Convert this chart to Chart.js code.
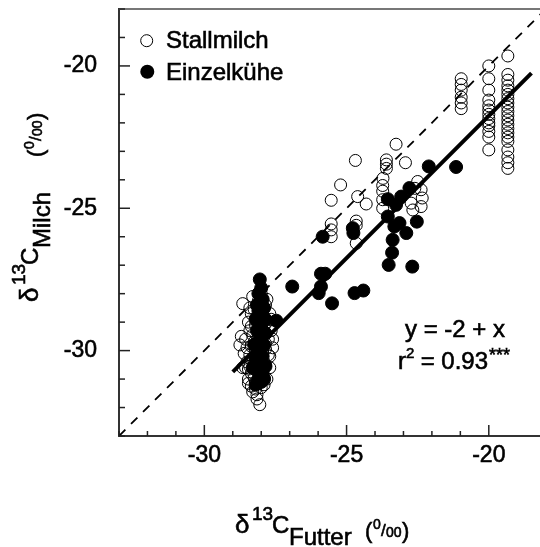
<!DOCTYPE html>
<html>
<head>
<meta charset="utf-8">
<script src="https://cdn.jsdelivr.net/npm/chart.js@4.4.0/dist/chart.umd.min.js"></script>
<style>
html, body { margin: 0; padding: 0; background: #fff; }
#wrap { width: 540px; height: 547px; }
</style>
</head>
<body>
<div id="wrap"><canvas id="chart" width="540" height="547"></canvas></div>
<script>

// d13C Futter (x) vs d13C Milch (y), per mille
const stallmilch = [
  // column at -19.3
  [-19.33,-19.65],[-19.33,-20.3],[-19.33,-20.5],[-19.33,-20.7],[-19.33,-20.85],[-19.33,-21.0],
  [-19.33,-21.15],[-19.33,-21.3],[-19.33,-21.45],[-19.33,-21.6],[-19.33,-21.75],[-19.33,-21.9],
  [-19.33,-22.05],[-19.33,-22.2],[-19.33,-22.35],[-19.33,-22.5],[-19.33,-22.65],[-19.33,-22.95],
  [-19.33,-23.2],[-19.33,-23.4],[-19.33,-23.6],
  // column at -20
  [-20.0,-20.0],[-20.0,-20.45],[-20.0,-20.85],[-20.0,-21.2],[-20.0,-21.4],[-20.0,-21.55],
  [-20.0,-21.7],[-20.0,-21.85],[-20.0,-22.0],[-20.0,-22.1],[-20.0,-22.3],[-20.0,-22.5],[-20.0,-22.95],
  // column at -21
  [-20.97,-20.45],[-20.97,-20.65],[-20.97,-20.85],[-20.97,-21.1],[-20.97,-21.3],[-20.97,-21.5],
  // middle
  [-23.26,-22.75],[-24.69,-23.32],[-23.6,-23.3],[-23.6,-23.45],[-23.6,-23.6],[-22.93,-23.4],
  [-23.72,-23.95],[-23.73,-24.2],[-23.73,-24.4],[-23.73,-24.7],[-23.73,-25.0],[-25.21,-24.18],
  [-25.54,-24.72],[-24.61,-24.59],[-24.31,-24.85],[-25.54,-25.55],[-25.54,-25.76],[-25.54,-26.0],
  [-24.66,-25.45],[-24.66,-25.6],[-24.66,-26.23],[-22.5,-24.06],[-22.38,-24.35],[-22.34,-24.64],
  [-22.38,-24.94],[-22.73,-24.82],[-22.67,-25.06],[-22.6,-24.3],
  // cluster at -28
  [-28.3,-28.1],[-28.0,-28.0],[-27.8,-28.2],[-28.15,-28.4],[-27.9,-28.5],[-28.35,-28.7],
  [-27.7,-28.7],[-28.05,-28.8],[-28.45,-29.0],[-27.8,-29.0],[-28.2,-29.1],[-27.65,-29.3],
  [-28.4,-29.3],[-28.0,-29.4],[-28.55,-29.6],[-27.75,-29.6],[-28.25,-29.7],[-27.6,-29.9],
  [-28.5,-29.9],[-28.05,-30.0],[-28.6,-30.1],[-27.7,-30.2],[-28.3,-30.25],[-28.5,-30.4],
  [-27.9,-30.4],[-28.15,-30.5],[-28.55,-30.6],[-27.7,-30.6],[-28.35,-30.8],[-28.0,-30.85],
  [-28.45,-31.0],[-27.8,-31.0],[-28.2,-31.1],[-28.35,-31.25],[-28.0,-31.3],[-28.3,-31.45],
  [-28.15,-31.55],[-28.05,-31.9],[-28.65,-28.35],[-28.7,-29.5],[-28.75,-29.8],[-28.65,-30.6],
  [-27.75,-30.15],[-27.6,-29.6],[-27.65,-28.9],[-28.4,-28.5],
  [-28.1,-28.25],[-27.85,-28.4],[-28.25,-28.55],[-27.95,-28.65],[-28.15,-28.95],[-27.9,-29.15],
  [-28.3,-29.45],[-28.1,-29.55],[-27.85,-29.75],[-28.2,-29.95],[-27.95,-30.05],[-28.4,-30.15],
  [-28.1,-30.3],[-27.85,-30.5],[-28.25,-30.6],[-28.4,-30.55],[-28.05,-30.7],[-27.9,-30.95],
  [-28.25,-30.95],[-28.1,-31.15],[-27.9,-31.2],[-28.45,-31.15],[-28.2,-31.35],[-27.85,-29.95],
  [-28.35,-29.85],[-28.45,-30.65],[-28.15,-31.7],[-28.35,-29.15]
];

const einzelkuehe = [
  [-28.05,-27.5],[-28.0,-27.8],[-28.1,-28.0],[-27.95,-28.2],[-28.15,-28.4],[-27.9,-28.5],
  [-28.05,-28.7],[-28.2,-28.9],[-27.85,-28.9],[-28.0,-29.1],[-28.15,-29.3],[-27.85,-29.4],
  [-28.05,-29.6],[-28.25,-29.8],[-27.9,-29.8],[-28.1,-30.0],[-27.95,-30.2],[-28.2,-30.3],
  [-28.0,-30.5],[-28.15,-30.7],[-27.95,-30.8],[-28.1,-31.0],[-28.2,-31.2],[-28.0,-31.1],
  [-28.1,-28.6],[-27.95,-29.3],[-28.1,-29.9],[-27.85,-30.55],[-28.3,-30.6],[-27.9,-31.0],
  [-27.47,-28.95],[-26.91,-27.75],[-25.9,-27.3],[-25.75,-27.3],[-25.9,-27.75],[-25.98,-27.98],
  [-25.51,-28.34],[-24.72,-27.98],[-24.41,-27.89],[-25.84,-26.0],[-24.78,-25.7],[-24.76,-25.87],
  [-23.55,-24.68],[-23.08,-24.59],[-22.79,-24.29],[-22.11,-23.53],[-21.15,-23.55],[-23.26,-24.88],
  [-23.55,-25.29],[-23.14,-25.52],[-23.32,-25.64],[-22.9,-25.87],[-22.53,-25.47],[-23.38,-26.11],
  [-23.4,-26.56],[-23.52,-26.99],[-22.69,-27.05]
];

// regression y = -2 + x (as drawn) and the 1:1 line
const fitLine = [[-29.0,-30.75],[-18.5,-20.25]];
const oneToOne = [[-33,-33],[-18,-18]];

const xRange = [-33, -18.2];
const yRange = [-33, -18];

const FONT = '"Liberation Sans", Arial, Helvetica, sans-serif';

function toXY(arr) { return arr.map(p => ({x: p[0], y: p[1]})); }

// text pieces, each with its own x, baseline and size; thin stroke for weight
function drawPieces(ctx, pieces) {
  pieces.forEach(p => {
    ctx.font = p.size + 'px ' + FONT;
    ctx.fillText(p.t, p.x, p.dy);
    ctx.strokeText(p.t, p.x, p.dy);
  });
}

function noPad(s) {
  s.paddingTop = 0; s.paddingBottom = 0;
  s.paddingLeft = 0; s.paddingRight = 0;
}

const decor = {
  id: 'decor',
  afterDraw(chart) {
    const ctx = chart.ctx;
    const a = chart.chartArea;
    const xs = chart.scales.x, ys = chart.scales.y;
    ctx.save();
    // top frame line
    ctx.strokeStyle = '#777';
    ctx.lineWidth = 2;
    ctx.beginPath();
    ctx.moveTo(a.left, a.top);
    ctx.lineTo(a.right, a.top);
    ctx.stroke();
    // inward tick marks
    ctx.strokeStyle = '#222';
    ctx.lineWidth = 1.5;
    xs.ticks.forEach(t => {
      if (!Number.isInteger(t.value)) return;
      const px = xs.getPixelForValue(t.value);
      const len = t.value % 5 === 0 ? 11 : 5;
      ctx.beginPath();
      ctx.moveTo(px, a.bottom);
      ctx.lineTo(px, a.bottom - len);
      ctx.stroke();
    });
    ys.ticks.forEach(t => {
      if (!Number.isInteger(t.value)) return;
      const py = ys.getPixelForValue(t.value);
      const len = t.value % 5 === 0 ? 11 : 6;
      ctx.beginPath();
      ctx.moveTo(a.left, py);
      ctx.lineTo(a.left + len, py);
      ctx.stroke();
    });

    ctx.fillStyle = '#000';
    ctx.textBaseline = 'alphabetic';
    ctx.textAlign = 'left';

    // legend
    ctx.lineWidth = 1;
    ctx.strokeStyle = '#000';
    ctx.beginPath();
    ctx.arc(146.7, 40.7, 6, 0, Math.PI * 2);
    ctx.stroke();
    ctx.beginPath();
    ctx.arc(147.3, 71.7, 7, 0, Math.PI * 2);
    ctx.fill();

    ctx.lineWidth = 0.6;
    drawPieces(ctx, [
      {t: 'Stallmilch', x: 166, dy: 48, size: 24},
      {t: 'Einzelkühe', x: 166, dy: 80, size: 24},
      // equation
      {t: 'y = -2 + x', x: 405, dy: 337, size: 24},
      {t: 'r', x: 398, dy: 369, size: 24},
      {t: '2', x: 406, dy: 358, size: 15},
      {t: ' = 0.93', x: 414, dy: 369, size: 24},
      {t: '***', x: 489, dy: 361, size: 18}
    ]);

    // x title
    drawPieces(ctx, [
      {t: 'δ', x: 235, dy: 533, size: 26},
      {t: '13', x: 252, dy: 520, size: 19},
      {t: 'C', x: 272, dy: 533, size: 24},
      {t: 'Futter', x: 289, dy: 545, size: 24},
      {t: '(', x: 365, dy: 538, size: 22},
      {t: '0', x: 373, dy: 529, size: 14},
      {t: '/', x: 381, dy: 536, size: 17},
      {t: '00', x: 386, dy: 537, size: 14},
      {t: ')', x: 402, dy: 538, size: 22}
    ]);

    // y title (rotated, reads bottom to top)
    ctx.translate(38, 302);
    ctx.rotate(-Math.PI / 2);
    drawPieces(ctx, [
      {t: 'δ', x: 0, dy: 0, size: 26},
      {t: '13', x: 17, dy: -13, size: 19},
      {t: 'C', x: 37, dy: 0, size: 24},
      {t: 'Milch', x: 54, dy: 12, size: 24},
      {t: '(', x: 145, dy: 5, size: 22},
      {t: '0', x: 153, dy: -4, size: 14},
      {t: '/', x: 161, dy: 3, size: 17},
      {t: '00', x: 166, dy: 4, size: 14},
      {t: ')', x: 182, dy: 5, size: 22}
    ]);
    ctx.restore();
  }
};

const data = {
  datasets: [{
    type: 'line',
    label: 'fit',
    data: toXY(fitLine),
    borderColor: '#000',
    borderWidth: 4,
    pointRadius: 0,
    fill: false,
    order: 0
  }, {
    type: 'line',
    label: '1:1',
    data: toXY(oneToOne),
    borderColor: '#000',
    borderWidth: 1.8,
    borderDash: [9, 8],
    pointRadius: 0,
    fill: false,
    order: 0
  }, {
    label: 'Einzelkühe',
    data: toXY(einzelkuehe),
    pointRadius: 6.5,
    pointBorderWidth: 1,
    pointBackgroundColor: '#000',
    pointBorderColor: '#000',
    order: 1
  }, {
    label: 'Stallmilch',
    data: toXY(stallmilch),
    pointRadius: 6,
    pointBorderWidth: 1,
    pointBackgroundColor: 'rgba(0,0,0,0)',
    pointBorderColor: '#000',
    order: 2
  }]
};

const config = {
  type: 'scatter',
  data: data,
  options: {
    responsive: false,
    animation: false,
    events: [],
    layout: {
      autoPadding: false,
      padding: { top: 9, right: 0, bottom: 0, left: 0 }
    },
    plugins: {
      legend: { display: false },
      tooltip: { enabled: false }
    },
    scales: {
      x: {
        type: 'linear',
        min: xRange[0],
        max: xRange[1],
        afterFit: s => { s.height = 111; noPad(s); },
        grid: { display: false, drawTicks: false },
        border: { display: true, color: '#333', width: 2 },
        ticks: {
          stepSize: 1,
          autoSkip: false,
          maxRotation: 0,
          padding: 6,
          color: '#000',
          textStrokeColor: '#000',
          textStrokeWidth: 0.6,
          font: { family: FONT, size: 23 },
          callback: v => (Number.isInteger(v) && v % 5 === 0) ? String(v) : ''
        }
      },
      y: {
        type: 'linear',
        min: yRange[0],
        max: yRange[1],
        afterFit: s => { s.width = 119; noPad(s); },
        grid: { display: false, drawTicks: false },
        border: { display: true, color: '#333', width: 2 },
        ticks: {
          stepSize: 1,
          autoSkip: false,
          padding: 22,
          color: '#000',
          textStrokeColor: '#000',
          textStrokeWidth: 0.6,
          font: { family: FONT, size: 23 },
          callback: v => (Number.isInteger(v) && v % 5 === 0) ? String(v) : ''
        }
      }
    }
  },
  plugins: [decor]
};

const milchChart = new Chart(document.getElementById('chart'), config);
</script>
</body>
</html>
